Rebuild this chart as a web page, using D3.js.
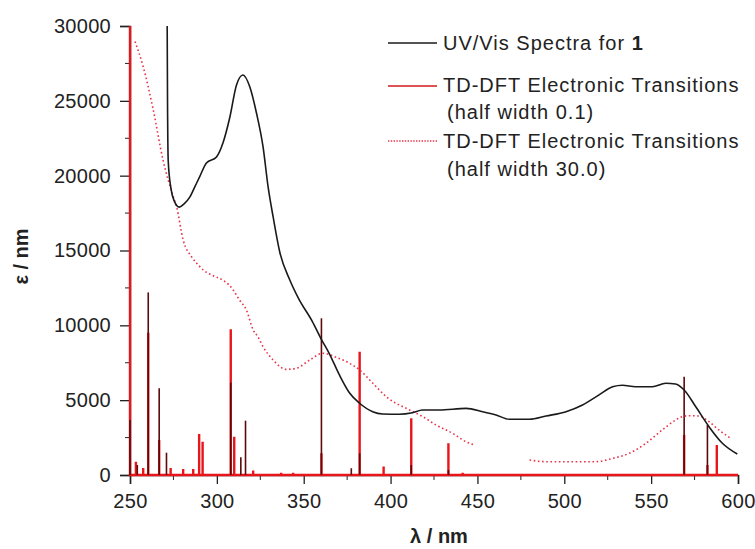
<html>
<head>
<meta charset="utf-8">
<title>UV/Vis and TD-DFT</title>
<script src="https://d3js.org/d3.v7.min.js"></script>
<style>
    body { margin: 0; background: #fff; }
    text { font-family: Arial, "Liberation Sans", sans-serif; fill: #222; }
    .leg { font-size: 20px; letter-spacing: 1px; }
</style>
</head>
<body>
<script>
    // measured UV/Vis spectrum [nm, epsilon]
    const uvvis = [
        [271.4, 30000], [271.6, 25000], [272.0, 21000], [273.5, 19200], [275.5, 18300],
        [278.3, 17900], [281, 18100], [284.5, 18580], [287.5, 19300], [290, 19900],
        [294, 20850], [299.8, 21250], [303.5, 22180], [307.5, 23920], [311.3, 26060],
        [315, 26730], [319, 25930], [322.8, 24190], [326.6, 21920], [329.5, 19250],
        [332.4, 17240], [336.2, 14900], [342, 13030], [347, 11800], [355, 10250],
        [360, 9100], [365, 8050], [370.7, 6650], [376.4, 5480], [382, 4810],
        [389.7, 4230], [395.4, 4080], [405, 4060], [412.6, 4160], [418.4, 4340],
        [428, 4340], [443.5, 4450], [453, 4230], [460.7, 4010], [468.4, 3720],
        [480, 3720], [489.5, 3940], [501, 4230], [510.5, 4680], [520, 5350],
        [527.8, 5900], [533.5, 6000], [541, 5900], [550.7, 5900], [558.4, 6130],
        [564, 6080], [569, 5680], [575.7, 4560], [583.3, 3230], [591, 2120], [599.6, 1400]
    ];

    // TD-DFT, half width 30.0 (null = gap in the trace)
    const broad = [
        [252.9, 28960], [257.6, 27280], [263.4, 24390], [269, 21050], [274.9, 18600],
        [276.8, 17930], [280.6, 15700], [285.4, 14590], [290.2, 13920], [309.4, 12360],
        [313, 11700], [317, 11030], [320.9, 9690], [323.6, 9240], [326.6, 8570],
        [332.4, 7680], [340, 7060], [345.8, 7130], [353.4, 7680], [361, 8130],
        [368.8, 7860], [376.4, 7460], [382.2, 7020], [389.8, 6130], [397.5, 5230],
        [411, 4340], [418.6, 3900], [426.2, 3340], [435.8, 2780], [443.5, 2220],
        [448.3, 2000], [464, null], [480, 1000], [489.5, 890], [518, 890],
        [527.8, 1110], [537.4, 1450], [547, 2120], [556.4, 3010], [564, 3670],
        [567.9, 3900], [571.8, 3960], [577.6, 3940], [583.3, 3560], [589, 3010], [595.8, 2450]
    ];

    // TD-DFT, half width 0.1 (sticks)
    const redSticks = [
        [250, 30000], [253.4, 890], [257.6, 470], [260.5, 9500], [266.8, 2340],
        [273.4, 470], [280.6, 400], [286.4, 400], [289.8, 2740], [291.8, 2220],
        [308, 9730], [310, 2560], [320.9, 300], [337, 150], [343.9, 150],
        [360.2, 1450], [382.2, 8240], [396, 560], [411.9, 3790], [433.3, 2120],
        [441.5, 150], [569, 2670], [582.4, 670], [587.8, 2000]
    ];
    const darkSticks = [
        [250, 3670], [254.2, 670], [260.5, 12200], [266.8, 5800], [271, 1490],
        [308, 6170], [313.8, 1180], [316.5, 3630], [360.2, 10470], [377.4, 450],
        [382.2, 1450], [411.9, 670], [433.3, 330], [569, 6570], [582.4, 3340]
    ];

    const xTicks = [250, 300, 350, 400, 450, 500, 550, 600];
    const yTicks = [0, 5000, 10000, 15000, 20000, 25000, 30000];

    const W = 755, H = 549;
    const margin = {top: 26, right: 17, bottom: 74, left: 130};

    const svg = d3.select('body').append('svg')
        .attr('width', W).attr('height', H);

    const x = d3.scaleLinear().domain([250, 600]).range([margin.left, W - margin.right]);
    const y = d3.scaleLinear().domain([0, 30000]).range([H - margin.bottom, margin.top]);

    // axes
    const xAxis = svg.append('g')
        .attr('transform', `translate(0,${y(0)})`)
        .call(d3.axisBottom(x).tickValues(xTicks).tickSize(9).tickPadding(10).tickFormat(d3.format('d')));
    xAxis.append('g').selectAll('line')
        .data(d3.range(275, 600, 50)).join('line')
        .attr('x1', d => x(d)).attr('x2', d => x(d))
        .attr('y1', 0).attr('y2', 5).attr('stroke', '#222');

    const yAxis = svg.append('g')
        .attr('transform', `translate(${x(250)},0)`)
        .call(d3.axisLeft(y).tickValues(yTicks).tickSize(10).tickPadding(9).tickFormat(d3.format('d')));
    yAxis.append('g').selectAll('line')
        .data(d3.range(2500, 30000, 5000)).join('line')
        .attr('y1', d => y(d)).attr('y2', d => y(d))
        .attr('x1', 0).attr('x2', -5).attr('stroke', '#222');

    svg.selectAll('.domain').attr('stroke', '#222').attr('stroke-width', 1.5);
    svg.selectAll('.tick line').attr('stroke', '#222').attr('stroke-width', 1.3);
    svg.selectAll('.tick text').style('font-size', '20px').style('letter-spacing', '0.3px').attr('fill', '#222');

    // axis titles
    svg.append('text')
        .attr('transform', `translate(28,${(y(0) + y(30000)) / 2 + 6}) rotate(-90)`)
        .attr('text-anchor', 'middle')
        .style('font-size', '20px').style('font-weight', 'bold')
        .text('ε / nm');
    svg.append('text')
        .attr('x', x(425) + 5).attr('y', 543)
        .attr('text-anchor', 'middle')
        .style('font-size', '20px').style('font-weight', 'bold')
        .text('λ / nm');

    // stick spectra: baseline with vertical spikes
    const stickPath = sticks => {
        const p = d3.path();
        p.moveTo(x(250), y(0));
        sticks.forEach(([nm, e]) => {
            p.lineTo(x(nm), y(0));
            p.lineTo(x(nm), y(e));
            p.lineTo(x(nm), y(0));
        });
        p.lineTo(x(600), y(0));
        return p.toString();
    };

    svg.append('path')
        .attr('d', stickPath(redSticks))
        .attr('fill', 'none').attr('stroke', '#e8161b').attr('stroke-width', 2.4);

    svg.selectAll('line.dark')
        .data(darkSticks).join('line').attr('class', 'dark')
        .attr('x1', d => x(d[0])).attr('x2', d => x(d[0]))
        .attr('y1', y(0)).attr('y2', d => y(d[1]))
        .attr('stroke', '#5c0a0a').attr('stroke-width', 1.6);

    // broadened TD-DFT (dotted)
    const line = d3.line()
        .defined(d => d[1] !== null)
        .x(d => x(d[0])).y(d => y(d[1]))
        .curve(d3.curveMonotoneX);

    svg.append('path')
        .datum(broad)
        .attr('d', line)
        .attr('fill', 'none').attr('stroke', '#e8344a')
        .attr('stroke-width', 1.6).attr('stroke-dasharray', '1.6,2.6');

    // UV/Vis
    svg.append('path')
        .datum(uvvis)
        .attr('d', line)
        .attr('fill', 'none').attr('stroke', '#1a1a1a').attr('stroke-width', 1.6);

    // legend
    const legend = svg.append('g');
    const lx1 = 388, lx2 = 437, tx = 443;
    legend.append('line').attr('x1', lx1).attr('x2', lx2).attr('y1', 43).attr('y2', 43)
        .attr('stroke', '#1a1a1a').attr('stroke-width', 1.6);
    const t1 = legend.append('text').attr('class', 'leg').attr('x', tx).attr('y', 50);
    t1.append('tspan').text('UV/Vis Spectra for ');
    t1.append('tspan').style('font-weight', 'bold').text('1');

    legend.append('line').attr('x1', lx1).attr('x2', lx2).attr('y1', 86).attr('y2', 86)
        .attr('stroke', '#d0181c').attr('stroke-width', 1.6);
    legend.append('text').attr('class', 'leg').attr('x', tx).attr('y', 92)
        .text('TD-DFT Electronic Transitions');
    legend.append('text').attr('class', 'leg').attr('x', tx + 4).attr('y', 119)
        .text('(half width 0.1)');

    legend.append('line').attr('x1', lx1).attr('x2', lx2).attr('y1', 141).attr('y2', 141)
        .attr('stroke', '#e8344a').attr('stroke-width', 1.4).attr('stroke-dasharray', '1.4,1.4');
    legend.append('text').attr('class', 'leg').attr('x', tx).attr('y', 148)
        .text('TD-DFT Electronic Transitions');
    legend.append('text').attr('class', 'leg').attr('x', tx + 4).attr('y', 176)
        .text('(half width 30.0)');
</script>
</body>
</html>
